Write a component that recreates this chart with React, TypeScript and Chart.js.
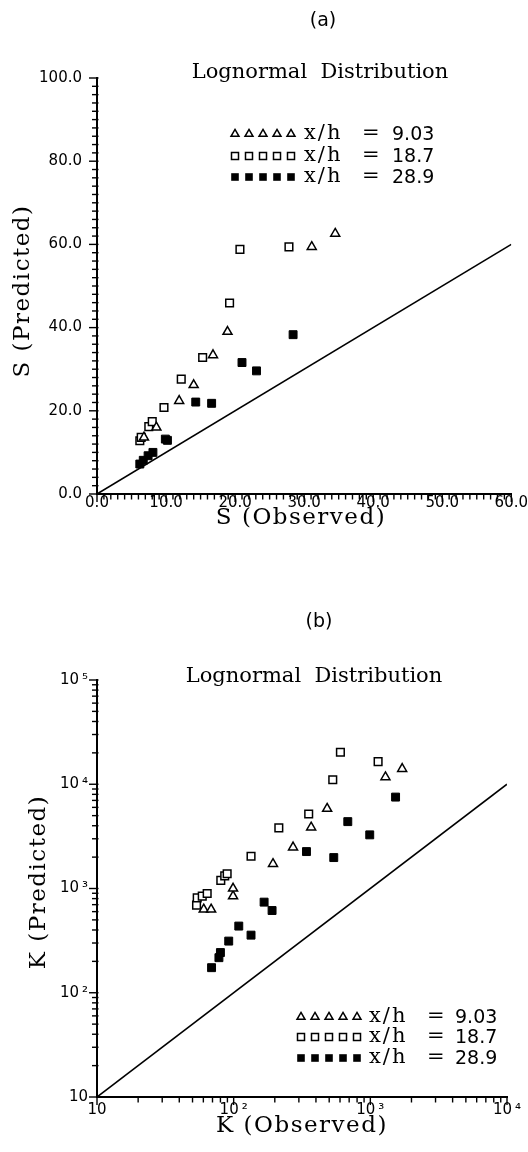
import React, { useEffect, useRef } from 'react';
import { Chart, registerables } from 'chart.js';

Chart.register(...registerables);

// ---------- (a) linear chart: S ----------
const sTriX = [6.8, 8.6, 11.9, 14.0, 16.8, 18.9, 31.1, 34.5];
const sTriY = [13.6, 16.0, 22.4, 26.2, 33.4, 39.0, 59.4, 62.6];
const sSqX = [6.2, 6.4, 7.5, 8.0, 9.7, 12.2, 15.3, 19.2, 20.7, 27.8];
const sSqY = [12.8, 13.6, 16.2, 17.4, 20.8, 27.6, 32.8, 45.9, 58.8, 59.4];
const sFillX = [6.2, 6.7, 7.4, 8.1, 9.9, 10.2, 14.3, 16.6, 21.0, 23.1, 28.4];
const sFillY = [7.2, 8.1, 9.2, 10.0, 13.2, 12.9, 22.1, 21.8, 31.6, 29.6, 38.3];
const sDiagonal = [0, 60];

// ---------- (b) log chart: K ----------
const kTriX = [60.4, 68.4, 99, 99, 194, 272, 369, 483, 1290, 1710];
const kTriY = [630, 630, 844, 1000, 1722, 2485, 3860, 5830, 11700, 14060];
const kSqX = [53.5, 54.1, 58.9, 64, 80.5, 86, 89.6, 134, 214, 354, 531, 604, 1140];
const kSqY = [692, 814, 844, 895, 1195, 1320, 1384, 2040, 3810, 5190, 11050, 20300, 16500];
const kFillX = [68.9, 78, 80, 92, 109, 134, 167, 191, 341, 540, 684, 990, 1530];
const kFillY = [174, 217, 243, 313, 436, 357, 740, 615, 2260, 1980, 4380, 3270, 7530];
const kDiagonal = [10, 10000];

const legendValues = ['9.03', '18.7', '28.9'];
const powLabels: Record<number, string> = { 1: '10', 2: '10\u2009²', 3: '10\u2009³', 4: '10\u2009⁴', 5: '10\u2009⁵' };

const zip = (xs: number[], ys: number[]) => xs.map((x, i) => ({ x, y: ys[i] }));

type MarkerKind = 'tri' | 'sq' | 'fill';

function drawMarker(ctx: CanvasRenderingContext2D, kind: MarkerKind, x: number, y: number) {
  ctx.save();
  ctx.lineWidth = 1.5;
  ctx.strokeStyle = '#000';
  ctx.fillStyle = '#000';
  ctx.beginPath();
  if (kind === 'tri') {
    const r = 4.6;
    ctx.moveTo(x, y - r);
    ctx.lineTo(x + r * 0.866, y + r * 0.5);
    ctx.lineTo(x - r * 0.866, y + r * 0.5);
    ctx.closePath();
    ctx.stroke();
  } else if (kind === 'sq') {
    ctx.rect(x - 3.5, y - 3.5, 7, 7);
    ctx.stroke();
  } else {
    ctx.rect(x - 3.8, y - 3.8, 7.6, 7.6);
    ctx.fill();
  }
  ctx.restore();
}

interface Deco {
  label: string;
  labelX: number;
  labelBase: number;
  headX: number;
  headBase: number;
  xTitle: string;
  xTitleX: number;
  xTitleY: number;
  yTitle: string;
  yTitleX: number;
  yTitleY: number;
  legendMarkX: number;
  legendXhX: number;
  legendEqX: number;
  legendValX: number;
  legendRows: number[];
  xTicks: { v: number; major: boolean }[];
  yTicks: { v: number; major: boolean }[];
}

function makeDecoPlugin(d: Deco) {
  return {
    id: 'deco',
    afterDraw(chart: any) {
      const { ctx, chartArea, scales } = chart;
      ctx.save();
      ctx.fillStyle = '#000';
      ctx.strokeStyle = '#000';
      // headers
      ctx.textAlign = 'center';
      ctx.textBaseline = 'alphabetic';
      ctx.font = '19px "DejaVu Sans"';
      ctx.fillText(d.label, d.labelX, d.labelBase);
      ctx.font = '21px "DejaVu Serif"';
      ctx.fillText('Lognormal  Distribution', d.headX, d.headBase);
      // axis titles
      ctx.textBaseline = 'middle';
      ctx.font = '23px "DejaVu Serif"';
      (ctx as any).letterSpacing = '1.5px';
      ctx.fillText(d.xTitle, d.xTitleX, d.xTitleY);
      ctx.save();
      ctx.translate(d.yTitleX, d.yTitleY);
      ctx.rotate(-Math.PI / 2);
      ctx.fillText(d.yTitle, 0, 0);
      ctx.restore();
      (ctx as any).letterSpacing = '0px';
      // ticks
      ctx.lineWidth = 1.4;
      for (const t of d.xTicks) {
        const px = scales.x.getPixelForValue(t.v);
        ctx.beginPath();
        ctx.moveTo(px, chartArea.bottom);
        ctx.lineTo(px, chartArea.bottom + (t.major ? 8 : 5.5));
        ctx.stroke();
      }
      for (const t of d.yTicks) {
        const py = scales.y.getPixelForValue(t.v);
        ctx.beginPath();
        ctx.moveTo(chartArea.left + 1.5, py);
        ctx.lineTo(chartArea.left - (t.major ? 8 : 5), py);
        ctx.stroke();
      }
      // legend
      const kinds: MarkerKind[] = ['tri', 'sq', 'fill'];
      ctx.textAlign = 'left';
      ctx.textBaseline = 'middle';
      d.legendRows.forEach((ry, i) => {
        for (let k = 0; k < 5; k++) drawMarker(ctx, kinds[i], d.legendMarkX + k * 14, ry);
        ctx.font = '21px "DejaVu Serif"';
        (ctx as any).letterSpacing = '2px';
        ctx.fillText('x/h', d.legendXhX, ry);
        ctx.fillText('=', d.legendEqX, ry);
        (ctx as any).letterSpacing = '0px';
        ctx.font = '19px "DejaVu Sans"';
        ctx.fillText(legendValues[i], d.legendValX, ry + 1);
      });
      ctx.restore();
    },
  };
}

const markerStyle = {
  tri: { pointStyle: 'triangle', pointRadius: 5.2, pointBackgroundColor: '#fff', pointBorderColor: '#000', pointBorderWidth: 1.5 },
  sq: { pointStyle: 'rect', pointRadius: 5.4, pointBackgroundColor: '#fff', pointBorderColor: '#000', pointBorderWidth: 1.5 },
  fill: { pointStyle: 'rect', pointRadius: 5.6, pointBackgroundColor: '#000', pointBorderColor: '#000', pointBorderWidth: 1 },
};

function buildDatasets(tri: any[], sq: any[], fill: any[], diag: number[]) {
  return [
    { label: 'y = x', data: diag.map((v) => ({ x: v, y: v })), showLine: true, borderColor: '#000', borderWidth: 1.6, pointRadius: 0, fill: false },
    { label: 'x/h = ' + legendValues[0], data: tri, ...markerStyle.tri },
    { label: 'x/h = ' + legendValues[1], data: sq, ...markerStyle.sq },
    { label: 'x/h = ' + legendValues[2], data: fill, ...markerStyle.fill },
  ];
}

const tickFont = { family: '"DejaVu Sans"', size: 15 };

function linearTicks(min: number, max: number, step: number, majorEvery: number) {
  const out: { v: number; major: boolean }[] = [];
  for (let i = 0; min + i * step <= max + 1e-9; i++) {
    const v = min + i * step;
    out.push({ v, major: Math.abs(v / majorEvery - Math.round(v / majorEvery)) < 1e-9 });
  }
  return out;
}
function logTicks(minExp: number, maxExp: number) {
  const out: { v: number; major: boolean }[] = [];
  for (let e = minExp; e < maxExp; e++) {
    for (let k = 1; k < 10; k++) out.push({ v: k * Math.pow(10, e), major: k === 1 });
  }
  out.push({ v: Math.pow(10, maxExp), major: true });
  return out;
}

const logLabel = (v: any) => {
  const e = Math.log10(Number(v));
  return Math.abs(e - Math.round(e)) < 1e-9 ? powLabels[Math.round(e)] : '';
};

function useChart(ref: React.RefObject<HTMLCanvasElement>, make: () => any) {
  useEffect(() => {
    if (!ref.current) return;
    const chart = new Chart(ref.current, make());
    return () => chart.destroy();
  }, []);
}

export default function App() {
  const topRef = useRef<HTMLCanvasElement>(null);
  const botRef = useRef<HTMLCanvasElement>(null);

  useChart(topRef, () => ({
    type: 'scatter',
    data: { datasets: buildDatasets(zip(sTriX, sTriY), zip(sSqX, sSqY), zip(sFillX, sFillY), sDiagonal) },
    options: {
      responsive: false,
      animation: false,
      layout: { padding: { left: 0, right: 15, top: 78, bottom: 0 } },
      plugins: { legend: { display: false }, tooltip: { enabled: false } },
      scales: {
        x: {
          type: 'linear', min: 0, max: 60,
          grid: { display: false, drawTicks: false },
          border: { display: true, color: '#000', width: 2 },
          ticks: { stepSize: 10, color: '#000', font: tickFont, padding: 0, maxRotation: 0, autoSkip: false, callback: (v: any) => Number(v).toFixed(1) },
          afterFit: (s: any) => { s.height = 66; },
        },
        y: {
          type: 'linear', min: 0, max: 100,
          grid: { display: false, drawTicks: false },
          border: { display: true, color: '#000', width: 2 },
          ticks: { stepSize: 20, color: '#000', font: tickFont, padding: 15, autoSkip: false, callback: (v: any) => Number(v).toFixed(1) },
          afterFit: (s: any) => { s.width = 97; },
        },
      },
    },
    plugins: [makeDecoPlugin({
      label: '(a)', labelX: 323, labelBase: 26,
      headX: 320, headBase: 78,
      xTitle: 'S (Observed)', xTitleX: 301, xTitleY: 518,
      yTitle: 'S (Predicted)', yTitleX: 23, yTitleY: 291,
      legendMarkX: 235, legendXhX: 304, legendEqX: 362, legendValX: 392,
      legendRows: [134, 156, 177],
      xTicks: linearTicks(0, 60, 1, 10),
      yTicks: linearTicks(0, 100, 2, 20),
    })],
  }));

  useChart(botRef, () => ({
    type: 'scatter',
    data: { datasets: buildDatasets(zip(kTriX, kTriY), zip(kSqX, kSqY), zip(kFillX, kFillY), kDiagonal) },
    options: {
      responsive: false,
      animation: false,
      layout: { padding: { left: 0, right: 21, top: 120, bottom: 0 } },
      plugins: { legend: { display: false }, tooltip: { enabled: false } },
      scales: {
        x: {
          type: 'logarithmic', min: 10, max: 10000,
          grid: { display: false, drawTicks: false },
          border: { display: true, color: '#000', width: 2 },
          ticks: { color: '#000', font: tickFont, padding: 4, maxRotation: 0, autoSkip: false, callback: logLabel },
          afterFit: (s: any) => { s.height = 55; },
        },
        y: {
          type: 'logarithmic', min: 10, max: 100000,
          grid: { display: false, drawTicks: false },
          border: { display: true, color: '#000', width: 2 },
          ticks: { color: '#000', font: tickFont, padding: 9, autoSkip: false, callback: logLabel },
          afterFit: (s: any) => { s.width = 97; },
        },
      },
    },
    plugins: [makeDecoPlugin({
      label: '(b)', labelX: 319, labelBase: 67,
      headX: 314, headBase: 122,
      xTitle: 'K (Observed)', xTitleX: 302, xTitleY: 566,
      yTitle: 'K (Predicted)', yTitleX: 39, yTitleY: 322,
      legendMarkX: 301, legendXhX: 369, legendEqX: 427, legendValX: 455,
      legendRows: [457, 477, 498],
      xTicks: logTicks(1, 4),
      yTicks: logTicks(1, 5),
    })],
  }));

  return (
    <div style={{ position: 'absolute', left: 0, top: 0, width: 528, height: 1152, background: '#fff' }}>
      <canvas ref={topRef} width={528} height={560} style={{ position: 'absolute', left: 0, top: 0, display: 'block' }} />
      <canvas ref={botRef} width={528} height={592} style={{ position: 'absolute', left: 0, top: 560, display: 'block' }} />
    </div>
  );
}
